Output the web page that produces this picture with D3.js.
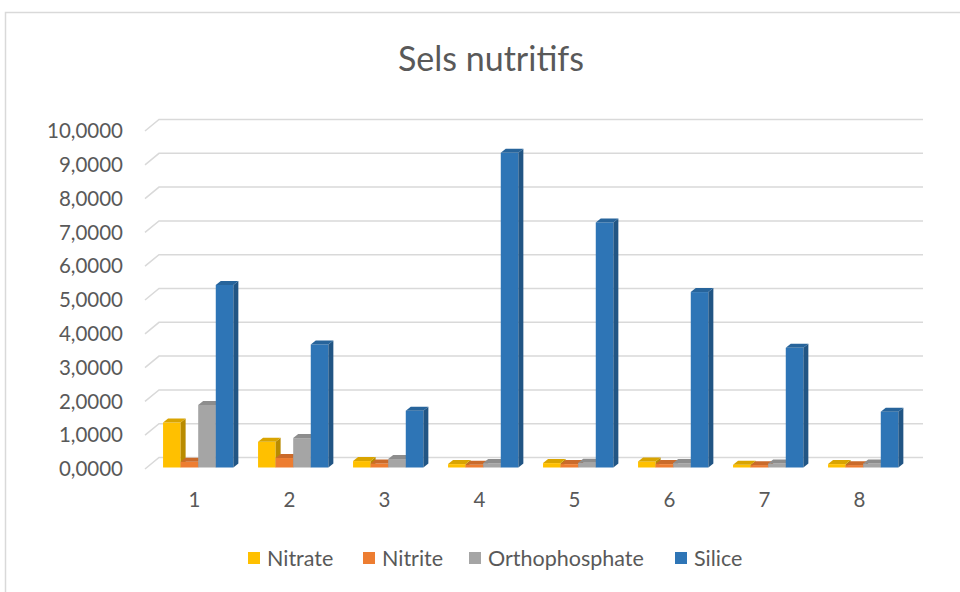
<!DOCTYPE html>
<html>
<head>
<meta charset="utf-8">
<script src="https://cdn.jsdelivr.net/npm/d3@7"></script>
<style>
  body { margin: 0; background: #fff; }
  svg { display: block; }
  text { font-family: Lato, "Open Sans", sans-serif; fill: #595959; }
</style>
</head>
<body>
<svg id="chart" width="960" height="592"></svg>
<script>
// Sampling stations and measured concentrations
const categories = ["1", "2", "3", "4", "5", "6", "7", "8"];
const seriesNames = ["Nitrate", "Nitrite", "Orthophosphate", "Silice"];
const nitrate = [1.33, 0.76, 0.19, 0.10, 0.13, 0.18, 0.08, 0.10];
const nitrite = [0.17, 0.28, 0.12, 0.08, 0.10, 0.10, 0.07, 0.07];
const orthophosphate = [1.85, 0.87, 0.25, 0.13, 0.14, 0.13, 0.12, 0.12];
const silice = [5.40, 3.64, 1.68, 9.31, 7.25, 5.19, 3.54, 1.65];
const yTicks = [0, 1, 2, 3, 4, 5, 6, 7, 8, 9, 10];
const colors = ["#FFC000", "#ED7D31", "#A5A5A5", "#2E75B6"];

const seriesValues = [nitrate, nitrite, orthophosphate, silice];

const svg = d3.select("#chart");

// chart area frame
svg.append("rect")
  .attr("x", 5.5).attr("y", 12.5)
  .attr("width", 1000).attr("height", 1000)
  .attr("fill", "#fff").attr("stroke", "#D9D9D9").attr("stroke-width", 1.5);

// title
svg.append("text")
  .attr("x", 491).attr("y", 71)
  .attr("text-anchor", "middle")
  .attr("font-size", 34)
  .text("Sels nutritifs");

// 3D geometry: floor depth and bar depth offsets
const floorDX = 14, floorDY = 11.5;
const barDX = 5, barDY = 4;

// value scales: front plane (labels / side wall) and bar plane
const yFront = d3.scaleLinear().domain([0, 10]).range([469, 131]);
const yBar = d3.scaleLinear().domain([0, 10]).range([467.5, 129.5]);

const x0 = d3.scaleBand().domain(categories).range([145, 905]);
const x1 = d3.scaleBand().domain(seriesNames)
  .range([x0.bandwidth() * 0.19, x0.bandwidth() * 0.93]);

// gridlines on back wall + side wall diagonals
const grid = svg.append("g").attr("stroke", "#D9D9D9").attr("stroke-width", 1.5).attr("fill", "none");
yTicks.forEach(t => {
  const yf = yFront(t);
  grid.append("path")
    .attr("d", `M145,${yf}L${145 + floorDX},${yf - floorDY}L923,${yf - floorDY}`);
});

// y tick labels
svg.append("g").selectAll("text")
  .data(yTicks).join("text")
  .attr("x", 123)
  .attr("y", d => yFront(d))
  .attr("dy", "0.35em")
  .attr("text-anchor", "end")
  .attr("font-size", 20.5)
  .text(d => d3.format(".4f")(d).replace(".", ","));

// bars, drawn station by station, series left to right
const bars = svg.append("g");
categories.forEach((c, ci) => {
  seriesNames.forEach((s, si) => {
    const v = seriesValues[si][ci];
    const x = x0(c) + x1(s);
    const w = x1.bandwidth();
    const yT = yBar(v), yB = yBar(0);
    const col = d3.color(colors[si]);
    const g = bars.append("g");
    g.append("rect")
      .attr("x", x).attr("y", yT)
      .attr("width", w).attr("height", yB - yT)
      .attr("fill", col.formatHex());
    g.append("path")
      .attr("d", `M${x + w},${yT}L${x + w + barDX},${yT - barDY}L${x + w + barDX},${yB - barDY}L${x + w},${yB}Z`)
      .attr("fill", col.darker(0.9).formatHex());
    g.append("path")
      .attr("d", `M${x},${yT}L${x + barDX},${yT - barDY}L${x + w + barDX},${yT - barDY}L${x + w},${yT}Z`)
      .attr("fill", col.darker(0.45).formatHex());
  });
});

// category labels
svg.append("g").selectAll("text")
  .data(categories).join("text")
  .attr("x", d => x0(d) + x0.bandwidth() / 2 + 2)
  .attr("y", 500)
  .attr("dy", "0.35em")
  .attr("text-anchor", "middle")
  .attr("font-size", 20.5)
  .text(d => d);

// legend
const legendX = [248, 363, 469, 675];
const legend = svg.append("g");
seriesNames.forEach((s, i) => {
  legend.append("rect")
    .attr("x", legendX[i]).attr("y", 552)
    .attr("width", 12).attr("height", 12)
    .attr("fill", colors[i]);
  legend.append("text")
    .attr("x", legendX[i] + 19).attr("y", 558)
    .attr("dy", "0.35em")
    .attr("font-size", 21.5)
    .text(s);
});
</script>
</body>
</html>
